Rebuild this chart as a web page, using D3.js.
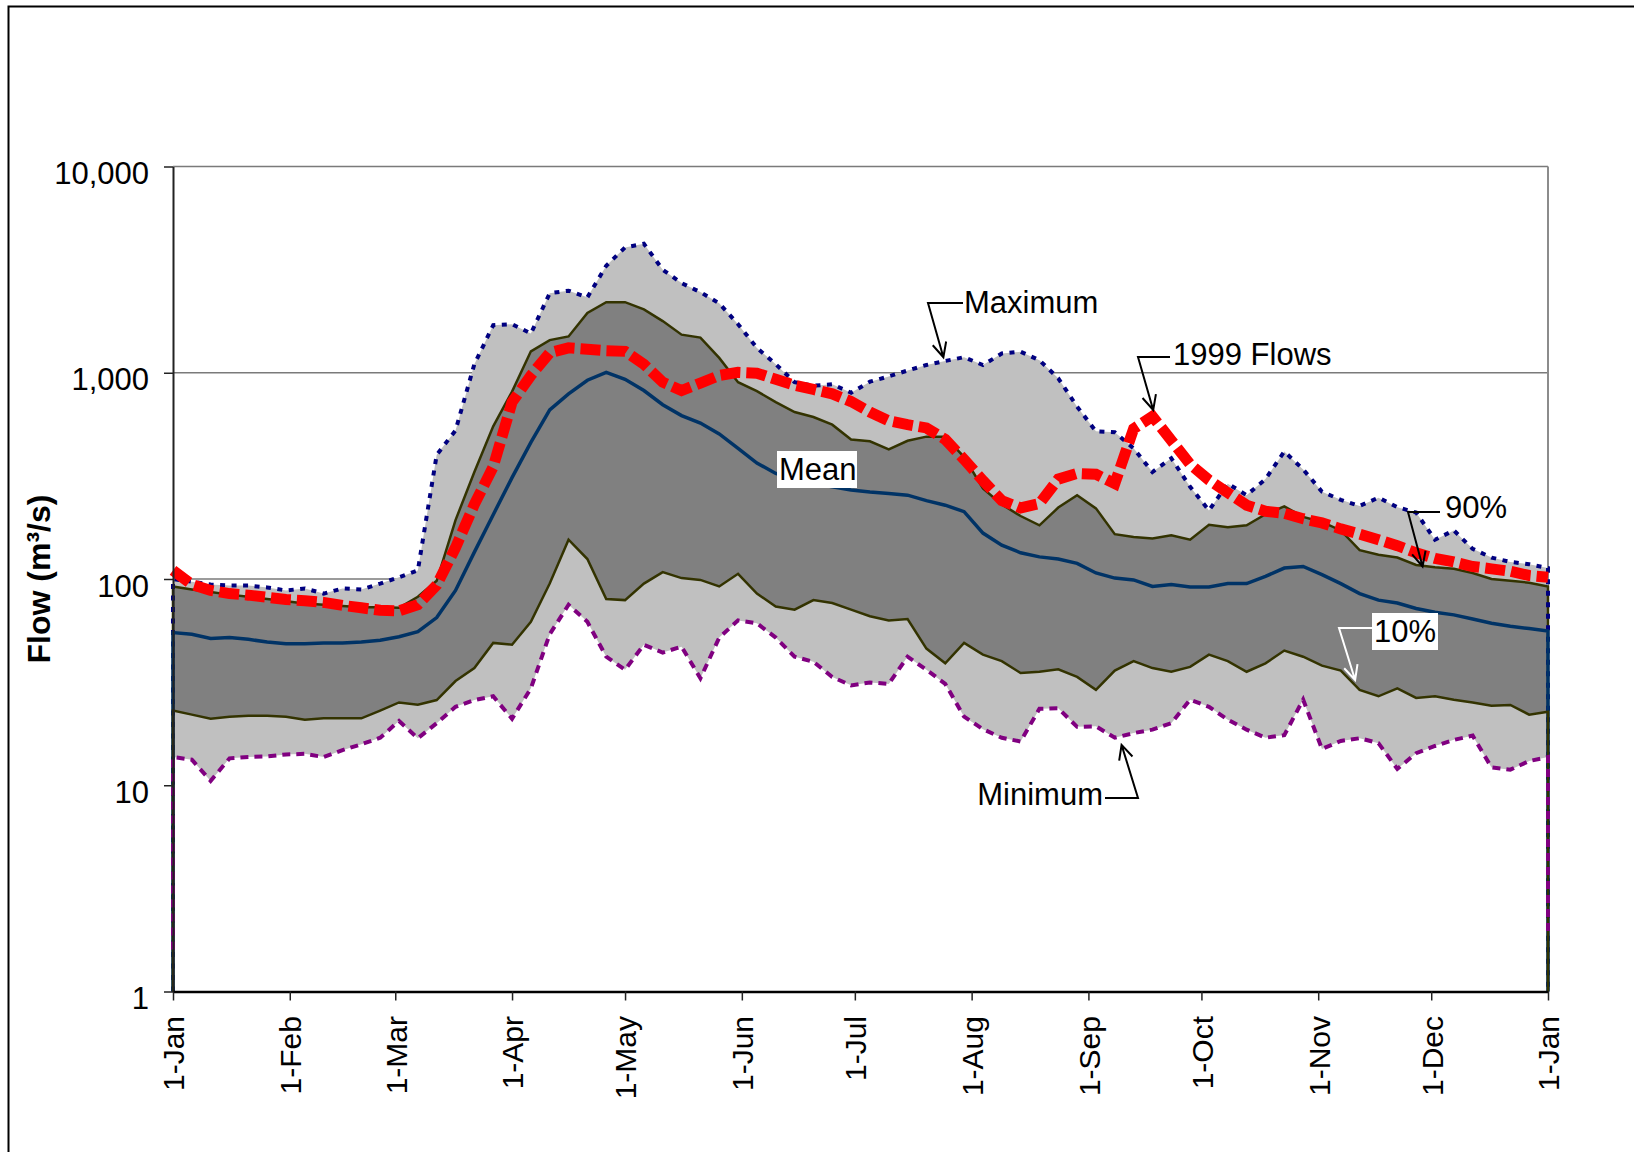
<!DOCTYPE html>
<html>
<head>
<meta charset="utf-8">
<script src="https://cdn.jsdelivr.net/npm/d3@7/dist/d3.min.js"></script>
<style>
  body { margin: 0; background: #fff; }
  text { font-family: "Liberation Sans", Arial, sans-serif; }
</style>
</head>
<body>
<svg width="1634" height="1152"></svg>
<script>
// day of year (0 = 1-Jan) for every reading
var days = [0,5,10,15,20,25,30,35,40,45,50,55,60,65,70,75,80,85,90,95,
  100,105,110,115,120,125,130,135,140,145,150,155,160,165,170,175,180,185,190,195,
  200,205,210,215,220,225,230,235,240,245,250,255,260,265,270,275,280,285,290,295,
  300,305,310,315,320,325,330,335,340,345,350,355,360,365];

// flows in m3/s
var maxFlow = [100,97,94,93,93,91,88,90,85,90,
  89,95,102,110,400,525,1100,1700,1720,1550,
  2430,2500,2320,3300,4050,4220,3160,2720,2460,2170,
  1720,1320,1100,900,865,880,800,905,960,1025,
  1090,1140,1190,1090,1240,1265,1150,940,685,520,
  515,430,330,385,280,215,290,255,305,415,
  340,265,242,226,248,223,210,155,172,140,
  127,121,118,113];

var p90Flow = [92,89,86.5,84,82,80,78,76,75,74,
  73,73,72.5,82,98,193,330,550,810,1270,
  1440,1500,1950,2200,2200,2030,1780,1530,1480,1180,
  900,815,720,645,610,560,475,465,425,468,
  490,490,390,275,230,202,182,222,255,220,
  165,160,157,163,155,183,178,182,206,225,
  200,189,172,138,131,127,117,114,112,107,
  100,98,96,92];

var meanFlow = [55,54,51.5,52,51,49.5,48.5,48.5,49,49,
  49.5,50.5,52.5,55.6,65,88,135,205,310,460,
  660,790,920,1005,930,820,700,620,570,505,
  430,365,325,305,290,280,270,264,260,255,
  240,228,212,167,146,134,128,125,119,107,
  101,99,92,94,91.5,91.5,95,95,103,113,
  115,105,95,85,79,76.5,72,69,67,64,
  61,59,57.5,56];

var p10Flow = [23,22,21,21.5,21.7,21.7,21.5,20.8,21.1,21.1,
  21.1,23,25.2,24.6,25.9,32,37,49,48,62,
  95,155,125,80,79,95,108,101,99,92,
  106,85,73.5,71,79,76.5,71,66,63,64,
  46,39,49,43,40,35,35.5,36.5,33.5,29,
  36,40,37,35.5,37.5,43,40,35.5,39,45,
  42,38,36,29,27,29.5,26.5,27,26,25.2,
  24.3,24.5,22,22.7];

var minFlow = [13.7,13.3,10.5,13.5,13.7,13.8,14.1,14.2,13.7,14.8,
  15.8,17,20.5,16.9,20,24,25.9,27,21,29.5,
  54,75,62,42,36.3,48,44,47,33,52,
  63,61,52,42,39.7,33.5,30.5,31.5,31,42,
  36.3,31,21.5,18.7,17,16.3,23.5,23.6,19.2,19.3,
  17,17.9,18.6,20,26,24,20.8,18.6,17,17.5,
  26,15,16.4,16.9,16,12,14.3,15.5,16.6,17.4,
  12.2,11.9,13.1,13.7];

var flows1999 = [110,94,88,85,83.5,81.5,79.5,78.5,77,74.5,
  72.5,70.5,70,75,93.5,142,230,350,720,970,
  1250,1320,1300,1280,1270,1100,900,820,890,970,
  1005,995,930,870,830,790,725,645,585,560,
  540,475,380,300,240,221,232,305,325,322,
  290,535,615,470,360,302,262,228,213,208,
  196,187,175,165,155,145,134,126,121,115,
  112,109,104,102];

// the statistic lines fall away to the bottom at both ends of the year
var dropStart = [1, 1, 1, 1, 1.6];   // max, 90%, mean, 10%, min
var dropEnd   = [1, 1, 1, 1, 1.9];

var monthDays   = [0,31,59,90,120,151,181,212,243,273,304,334,365];
var monthLabels = ["1-Jan","1-Feb","1-Mar","1-Apr","1-May","1-Jun","1-Jul",
                   "1-Aug","1-Sep","1-Oct","1-Nov","1-Dec","1-Jan"];
var yTicks = [1, 10, 100, 1000, 10000];
var gridValues = [100, 1000, 10000];

// annotations: arrow tips in data units (day, flow)
var noteLabels  = ["Maximum", "1999 Flows", "90%", "10%", "Minimum"];
var noteTipDay  = [204.5, 260.2, 331.7, 313.8, 251.8];
var noteTipFlow = [1189, 660, 115, 32.4, 15.7];

var svg = d3.select("svg");
var x = d3.scaleLinear().domain([0, 365]).range([173, 1548]);
var y = d3.scaleLog().domain([1, 10000]).range([991.5, 166.5]);

// outer frame
svg.append("rect")
  .attr("x", 8.5).attr("y", 6.5)
  .attr("width", 1700).attr("height", 1200)
  .attr("fill", "none").attr("stroke", "#000").attr("stroke-width", 2);

// gridlines (under the bands)
svg.selectAll("line.grid")
  .data(gridValues)
  .enter()
  .append("line")
    .attr("class", "grid")
    .attr("x1", x(0)).attr("x2", x(365))
    .attr("y1", d => y(d)).attr("y2", d => y(d))
    .attr("stroke", "#7a7a7a").attr("stroke-width", 1.5);

// right edge of plot area
svg.append("line")
  .attr("x1", x(365)).attr("x2", x(365))
  .attr("y1", y(10000)).attr("y2", y(1))
  .attr("stroke", "#8c8c8c").attr("stroke-width", 2);

// bands: min..max light grey, 10%..90% dark grey
function band(lo, hi) {
  return d3.area()
    .x((d, i) => x(days[i]))
    .y0((d, i) => y(lo[i]))
    .y1((d, i) => y(hi[i]))(days);
}
svg.append("path").attr("d", band(minFlow, maxFlow)).attr("fill", "#c0c0c0");
svg.append("path").attr("d", band(p10Flow, p90Flow)).attr("fill", "#808080");

var line = d3.line().x(d => x(d[0])).y(d => y(d[1]));

function withDrops(vals, k) {
  var pts = [[0, dropStart[k]]];
  vals.forEach((v, i) => pts.push([days[i], v]));
  pts.push([365, dropEnd[k]]);
  return pts;
}

// drawing order matters where the ends overlap
var lines = [
  {vals: p90Flow,  k: 1, color: "#333300", width: 2.5, dash: null},
  {vals: maxFlow,  k: 0, color: "#000080", width: 4,   dash: "5,6.5"},
  {vals: meanFlow, k: 2, color: "#003366", width: 3.5, dash: null},
  {vals: p10Flow,  k: 3, color: "#333300", width: 2.5, dash: null},
  {vals: minFlow,  k: 4, color: "#800080", width: 4,   dash: "8,6"}
];

svg.selectAll("path.stat")
  .data(lines)
  .enter()
  .append("path")
    .attr("class", "stat")
    .attr("d", d => line(withDrops(d.vals, d.k)))
    .attr("fill", "none")
    .attr("stroke", d => d.color)
    .attr("stroke-width", d => d.width)
    .attr("stroke-dasharray", d => d.dash);

// 1999 flows, thick red dashes
svg.append("path")
  .attr("d", line(days.map((d, i) => [d, flows1999[i]])))
  .attr("fill", "none")
  .attr("stroke", "#ff0000")
  .attr("stroke-width", 11)
  .attr("stroke-dasharray", "20,6");

// y axis
var yAxis = d3.axisLeft(y)
  .tickValues(yTicks)
  .tickFormat(d3.format(","))
  .tickSize(9).tickSizeOuter(0).tickPadding(15);

svg.append("g")
    .attr("transform", `translate(${x(0)},0)`)
    .call(yAxis)
    .attr("font-family", null).attr("font-size", null)
    .each(function() {
      var g = d3.select(this);
      g.select(".domain").attr("stroke", "#222").attr("stroke-width", 2);
      g.selectAll(".tick line").attr("stroke", "#222").attr("stroke-width", 1.5);
      g.selectAll(".tick text")
        .attr("font-size", 31).attr("fill", "#000").attr("dy", "0.55em");
    });

// x axis, rotated labels
var xAxis = d3.axisBottom(x)
  .tickValues(monthDays)
  .tickFormat((d, i) => monthLabels[i])
  .tickSize(9).tickSizeOuter(0);

svg.append("g")
    .attr("transform", `translate(0,${y(1)})`)
    .call(xAxis)
    .attr("font-family", null).attr("font-size", null)
    .each(function() {
      var g = d3.select(this);
      g.select(".domain").attr("stroke", "#000").attr("stroke-width", 2.5);
      g.selectAll(".tick line").attr("stroke", "#222").attr("stroke-width", 1.5);
      g.selectAll(".tick text")
        .attr("font-size", 30).attr("fill", "#000")
        .attr("transform", "rotate(-90)")
        .attr("text-anchor", "end")
        .attr("x", -24.5).attr("y", 0).attr("dy", "0.36em");
    });

// y axis title
svg.append("text")
  .attr("transform", `translate(50,${(y(1) + y(10000)) / 2}) rotate(-90)`)
  .attr("text-anchor", "middle")
  .attr("font-size", 32).attr("font-weight", "bold")
  .text("Flow (m³/s)");

// "Mean" label on white
svg.append("rect").attr("x", 777).attr("y", 451).attr("width", 80).attr("height", 37).attr("fill", "#fff");
svg.append("text").attr("x", 779).attr("y", 480).attr("font-size", 31).text("Mean");

// leader lines with open arrowheads
var noteElbow  = [[928, 303], [1138, 357], [1408, 512], [1339, 628], [1138, 798]];
var noteBarEnd = [963, 1170, 1440, 1372, 1105];
var noteText   = [[964, 313, "start"], [1173, 365, "start"], [1445, 518, "start"],
                  [1374, 642, "start"], [1103, 805, "end"]];
var noteColor  = ["#000", "#000", "#000", "#fff", "#000"];

// white box behind the 10% label
svg.append("rect").attr("x", 1372).attr("y", 613).attr("width", 66).attr("height", 37).attr("fill", "#fff");

noteLabels.forEach(function(label, i) {
  var tx = x(noteTipDay[i]), ty = y(noteTipFlow[i]);
  var ex = noteElbow[i][0], ey = noteElbow[i][1];
  var ang = Math.atan2(ty - ey, tx - ex);
  var len = 16, spread = 0.45;
  var w1 = [tx - len * Math.cos(ang - spread), ty - len * Math.sin(ang - spread)];
  var w2 = [tx - len * Math.cos(ang + spread), ty - len * Math.sin(ang + spread)];

  svg.append("path")
    .attr("d", `M${noteBarEnd[i]},${ey}L${ex},${ey}L${tx},${ty}M${w1}L${tx},${ty}L${w2}`)
    .attr("fill", "none")
    .attr("stroke", noteColor[i])
    .attr("stroke-width", 2);

  svg.append("text")
    .attr("x", noteText[i][0]).attr("y", noteText[i][1])
    .attr("text-anchor", noteText[i][2])
    .attr("font-size", 31)
    .text(label);
});
</script>
</body>
</html>
